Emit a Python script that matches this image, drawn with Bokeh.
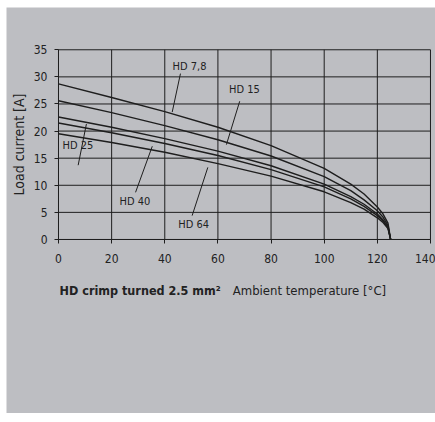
from bokeh.plotting import figure
from bokeh.models import Range1d, FixedTicker
from bokeh.embed import file_html
from bokeh.resources import INLINE
from bokeh.core.properties import value

# ---- data ----
temperature = [0, 20, 40, 60, 80, 100, 110, 115, 120, 122, 124, 125]
hd_7_8 = [28.7, 26.2, 23.6, 20.7, 17.3, 13.1, 10.2, 8.4, 6.0, 4.8, 3.0, 0.0]
hd_15 = [25.6, 23.4, 21.0, 18.4, 15.4, 11.6, 9.0, 7.3, 5.3, 4.2, 2.6, 0.0]
hd_25 = [22.6, 20.7, 18.6, 16.3, 13.6, 10.2, 7.9, 6.5, 4.7, 3.7, 2.3, 0.0]
hd_40 = [21.5, 19.7, 17.7, 15.5, 12.9, 9.7, 7.5, 6.1, 4.4, 3.5, 2.2, 0.0]
hd_64 = [19.5, 17.9, 16.1, 14.0, 11.7, 8.8, 6.8, 5.6, 4.0, 3.2, 2.0, 0.0]

series_names = ["HD 7,8", "HD 15", "HD 25", "HD 40", "HD 64"]
series_values = [hd_7_8, hd_15, hd_25, hd_40, hd_64]

x_ticks = [0, 20, 40, 60, 80, 100, 120, 140]
y_ticks = [0, 5, 10, 15, 20, 25, 30, 35]

# callout labels: text position and leader line (data coords)
label_text_x = [49.3, 70.0, 7.3, 28.8, 50.9]
label_text_y = [31.9, 27.7, 17.4, 7.0, 2.7]
leader_x0 = [45.9, 68.2, 7.4, 29.0, 50.3]
leader_y0 = [30.6, 25.5, 13.7, 8.7, 4.4]
leader_x1 = [42.8, 63.2, 10.5, 35.3, 56.2]
leader_y1 = [23.5, 17.5, 21.3, 17.2, 13.3]

title_bold = "HD crimp turned 2.5 mm\u00b2"
title_normal = "Ambient temperature [\u00b0C]"
title_x = [0.4, 65.6]
title_y = -9.4
y_label = "Load current [A]"

FONT = "DejaVu Sans Condensed"
BG = "#bdbec2"
INK = "#1e1e1e"
TXT = "#222222"

p = figure(frame_width=429, frame_height=406, output_backend="svg",
           toolbar_location=None,
           x_range=Range1d(-19.57, 141.89), y_range=Range1d(-32.11, 42.80),
           min_border=0)
p.margin = (7, 0, 0, 6)
p.background_fill_color = BG
p.border_fill_color = BG
p.outline_line_color = None

for ax in (p.xaxis[0], p.yaxis[0]):
    ax.axis_line_color = INK
    ax.major_tick_line_color = INK
    ax.major_tick_out = 4
    ax.major_tick_in = 0
    ax.minor_tick_line_color = None
    ax.major_label_text_font = FONT
    ax.major_label_text_font_size = "12px"
    ax.major_label_text_color = TXT

p.xaxis.ticker = FixedTicker(ticks=x_ticks)
p.yaxis.ticker = FixedTicker(ticks=y_ticks)
p.xaxis.fixed_location = 0
p.yaxis.fixed_location = 0
p.xaxis.bounds = (0, 140)
p.yaxis.bounds = (0, 35)
p.xaxis.major_label_standoff = 11
p.yaxis.major_label_standoff = 7

p.yaxis.axis_label = y_label
p.yaxis.axis_label_text_font = FONT
p.yaxis.axis_label_text_font_size = "14px"
p.yaxis.axis_label_text_font_style = "normal"
p.yaxis.axis_label_text_color = TXT
p.yaxis.axis_label_standoff = 4

p.xgrid.visible = False
p.ygrid.visible = False

# grid lines drawn from the tick lists
p.segment(x0=x_ticks, y0=[y_ticks[0]] * len(x_ticks), x1=x_ticks,
          y1=[y_ticks[-1]] * len(x_ticks), line_color=INK, line_width=1)
p.segment(x0=[x_ticks[0]] * len(y_ticks), y0=y_ticks,
          x1=[x_ticks[-1]] * len(y_ticks), y1=y_ticks, line_color=INK, line_width=1)

for vals in series_values:
    p.line(temperature, vals, line_color=INK, line_width=1.4)

p.segment(leader_x0, leader_y0, leader_x1, leader_y1, line_color=INK, line_width=1)
p.text(label_text_x, label_text_y, text=series_names, text_font=value(FONT),
       text_font_size="11px", text_align="center", text_baseline="middle",
       text_color=TXT)

p.text([title_x[0]], [title_y], text=[title_bold], text_font=value(FONT),
       text_font_size="12.5px", text_font_style="bold", text_color=TXT,
       text_baseline="middle", text_align="left")
p.text([title_x[1]], [title_y], text=[title_normal], text_font=value(FONT),
       text_font_size="13px", text_color=TXT,
       text_baseline="middle", text_align="left")

open("out.html", "w").write(file_html(p, INLINE))
